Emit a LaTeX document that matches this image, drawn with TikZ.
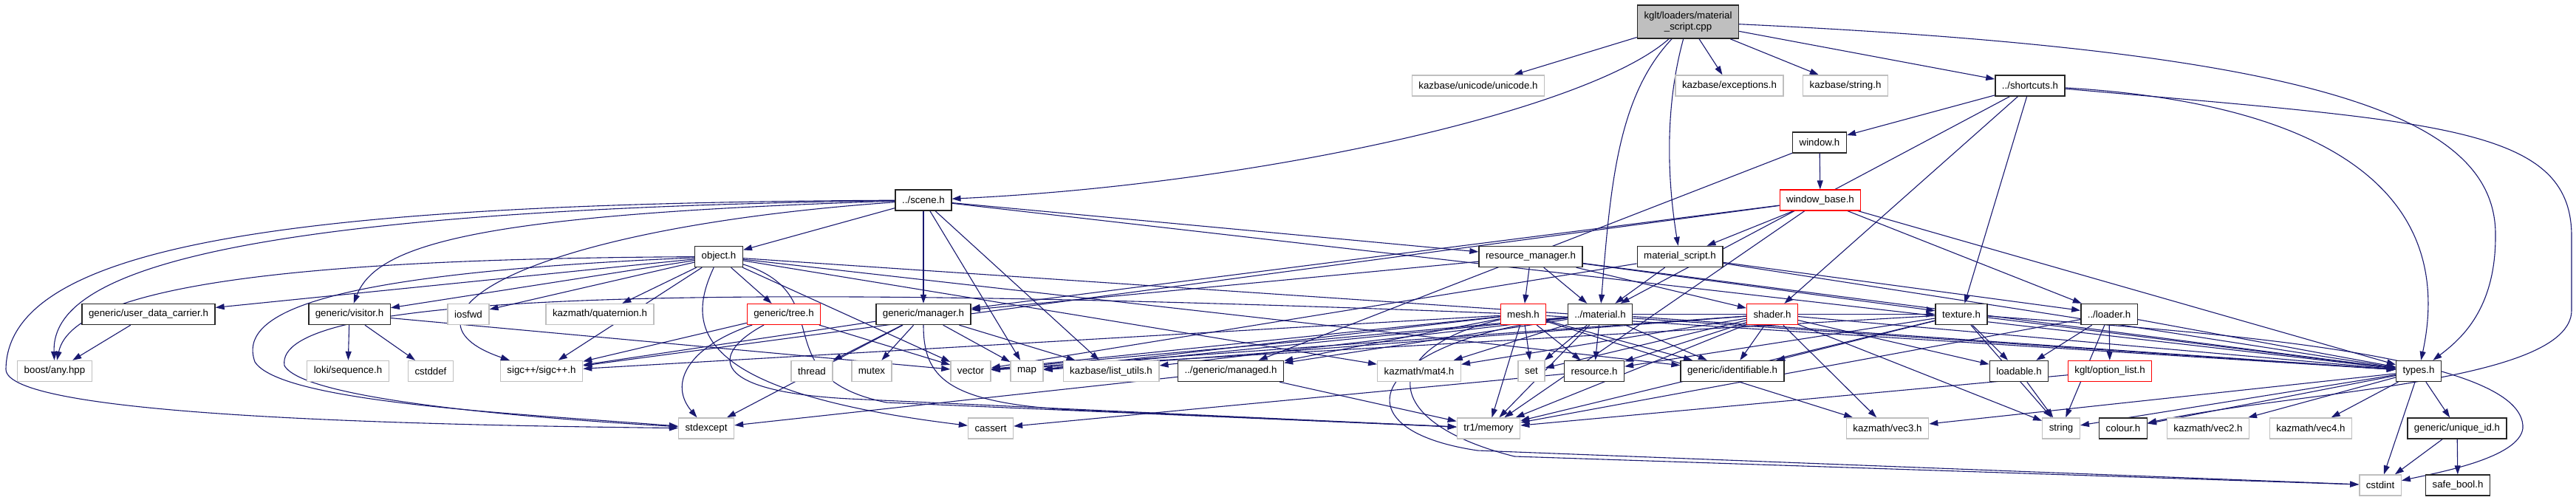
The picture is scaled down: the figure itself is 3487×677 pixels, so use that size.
\documentclass[tikz,border=0pt]{standalone}
\usepackage{fontspec}
\setmainfont{Liberation Sans}
\usepackage{tikz}
\usetikzlibrary{arrows.meta}
\definecolor{edgeblue}{HTML}{191970}
\definecolor{sysgray}{HTML}{BFBFBF}
\pgfdeclarelayer{edges}
\pgfsetlayers{edges,main}

\begin{document}
\begin{tikzpicture}[x=1pt,y=-1pt,
  file/.style={draw,line width=1.4pt,fill=white,font=\fontsize{13.3}{15}\selectfont,inner xsep=9pt,inner ysep=0pt,minimum height=28pt},
  hdr/.style={file,draw=black!85},
  sys/.style={file,draw=sysgray},
  cut/.style={file,draw=red,line width=1.1pt},
  dep/.style={draw=edgeblue,line width=1.1pt,-{Triangle[length=12pt,width=8pt]}}]
  \useasboundingbox (0,0) rectangle (3487,677);
  % top rows
  \node[hdr,fill=sysgray,align=center,minimum height=45pt] (root) at (2285,29.5) {kglt/loaders/material\\\_script.cpp};
  \node[sys] (unicode) at (2001,116) {kazbase/unicode/unicode.h};
  \node[sys] (exceptions) at (2341,116) {kazbase/exceptions.h};
  \node[sys] (kstring) at (2498,116) {kazbase/string.h};
  \node[hdr] (shortcuts) at (2748,116) {../shortcuts.h};
  \node[hdr] (window) at (2463,193) {window.h};
  \node[cut] (winbase) at (2464,271) {window\_base.h};
  \node[hdr] (scene) at (1250,271) {../scene.h};
  \node[hdr] (object) at (973,347.5) {object.h};
  \node[hdr] (resmgr) at (2072,347.5) {resource\_manager.h};
  \node[hdr] (matscript) at (2274,347.5) {material\_script.h};
  % middle row
  \node[hdr] (udc) at (201,425.5) {generic/user\_data\_carrier.h};
  \node[hdr] (visitor) at (473,425.5) {generic/visitor.h};
  \node[sys] (iosfwd) at (634,425.5) {iosfwd};
  \node[sys] (quat) at (812,425.5) {kazmath/quaternion.h};
  \node[cut] (tree) at (1061,425.5) {generic/tree.h};
  \node[hdr] (manager) at (1250,425.5) {generic/manager.h};
  \node[cut] (mesh) at (2062,425.5) {mesh.h};
  \node[hdr] (material) at (2166,425.5) {../material.h};
  \node[cut] (shader) at (2399,425.5) {shader.h};
  \node[hdr] (texture) at (2655,425.5) {texture.h};
  \node[hdr] (loader) at (2855,425.5) {../loader.h};
  % lower rows
  \node[sys] (boostany) at (74,502.5) {boost/any.hpp};
  \node[sys] (loki) at (471,502.5) {loki/sequence.h};
  \node[sys] (cstddef) at (583,502.5) {cstddef};
  \node[sys] (sigc) at (733,502.5) {sigc++/sigc++.h};
  \node[sys] (thread) at (1099,502.5) {thread};
  \node[sys] (mutex) at (1180,502.5) {mutex};
  \node[sys] (vector) at (1314,502.5) {vector};
  \node[sys] (map) at (1390,502.5) {map};
  \node[sys] (listutils) at (1504,502.5) {kazbase/list\_utils.h};
  \node[hdr] (managed) at (1666,502.5) {../generic/managed.h};
  \node[sys] (mat4) at (1921,502.5) {kazmath/mat4.h};
  \node[sys] (set) at (2073,502.5) {set};
  \node[hdr] (resource) at (2158,502.5) {resource.h};
  \node[hdr] (ident) at (2345,502.5) {generic/identifiable.h};
  \node[hdr] (loadable) at (2733,502.5) {loadable.h};
  \node[cut] (optlist) at (2856,502.5) {kglt/option\_list.h};
  \node[hdr] (types) at (3274,502.5) {types.h};
  \node[sys] (stdexcept) at (956,580) {stdexcept};
  \node[sys] (cassert) at (1341,580) {cassert};
  \node[sys] (tr1mem) at (2015,580) {tr1/memory};
  \node[sys] (vec3) at (2555,580) {kazmath/vec3.h};
  \node[sys] (string) at (2790,580) {string};
  \node[hdr] (colour) at (2874,580) {colour.h};
  \node[sys] (vec2) at (2989,580) {kazmath/vec2.h};
  \node[sys] (vec4) at (3128,580) {kazmath/vec4.h};
  \node[hdr] (uniqueid) at (3326,580) {generic/unique\_id.h};
  \node[sys] (cstdint) at (3222,657) {cstdint};
  \node[hdr] (safebool) at (3327,657) {safe\_bool.h};

  \begin{pgfonlayer}{edges}
  \foreach \s/\tl in {root/{unicode,exceptions,kstring,shortcuts},
      shortcuts/{window,shader,texture,material},
      window/{winbase,managed},
      winbase/{manager,sigc,matscript,loader,types,tr1mem},
      scene/{object,manager,map,listutils,resmgr,types},
      object/{udc,visitor,iosfwd,quat,sigc,tree,vector,mat4,types,ident},
      udc/{boostany}, visitor/{loki,cstddef,vector}, tree/{sigc,vector},
      manager/{sigc,stdexcept,thread,mutex,map,listutils},
      resmgr/{mesh,material,shader,texture,manager,types},
      matscript/{material,types,loader,vector},
      mesh/{vector,map,set,resource,ident,managed,types,tr1mem,vec3,sigc},
      material/{vector,map,listutils,resource,ident,tr1mem,mat4,types,managed,texture,set},
      shader/{set,resource,ident,mat4,tr1mem,vec3,types,loadable,string,vector,map},
      texture/{loadable,resource,ident,types,vector,tr1mem,string},
      loader/{loadable,optlist,types,tr1mem,string},
      loadable/{string}, optlist/{tr1mem}, managed/{stdexcept,tr1mem}, resource/{cassert},
      types/{vec3,string,colour,vec2,vec4,cstdint,uniqueid},
      uniqueid/{cstdint,safebool}}
    \foreach \t in \tl
      \draw[dep] (\s) -- (\t);
  % long routed edges
  \draw[dep] (root) .. controls (2190,130) and (2180,250) .. (material);
  \draw[dep] (root) .. controls (2252,150) and (2258,250) .. (matscript);
  \draw[dep] (root) .. controls (2150,150) and (1700,250) .. (scene);
  \draw[dep] (root) .. controls (3150,70) and (3380,160) .. (3378,320) .. controls (3378,420) and (3330,460) .. (types);
  \draw[dep] (shortcuts) .. controls (3150,140) and (3326,260) .. (types);
  \draw[dep] (shortcuts) .. controls (3300,165) and (3481,170) .. (3481,320) -- (3481,420) .. controls (3481,520) and (3100,530) .. (colour);
  \draw[dep] (texture) .. controls (3000,450) and (3420,480) .. (3415,580) .. controls (3410,620) and (3300,640) .. (cstdint);
  \draw[dep] (scene) .. controls (400,275) and (10,330) .. (8,500) .. controls (8,560) and (500,575) .. (stdexcept);
  \draw[dep] (scene) .. controls (250,285) and (70,380) .. (boostany);
  \draw[dep] (object) .. controls (450,350) and (100,380) .. (boostany);
  \draw[dep] (scene) .. controls (650,290) and (510,330) .. (visitor);
  \draw[dep] (scene) .. controls (700,310) and (520,430) .. (sigc);
  \draw[dep] (object) .. controls (450,370) and (320,420) .. (345,490) .. controls (380,545) and (700,560) .. (stdexcept);
  \draw[dep] (mesh) .. controls (900,380) and (370,400) .. (385,495) .. controls (410,540) and (700,565) .. (stdexcept);
  \draw[dep] (tree) .. controls (930,470) and (905,520) .. (stdexcept);
  \draw[dep] (object) .. controls (930,440) and (930,530) .. (cassert);
  \draw[dep] (object) .. controls (1140,400) and (1030,510) .. (1200,545) -- (tr1mem);
  \draw[dep] (tree) .. controls (960,480) and (960,530) .. (1150,540) -- (tr1mem);
  \draw[dep] (manager) .. controls (1250,510) and (1280,545) .. (1450,555) -- (tr1mem);
  \draw[dep] (material) .. controls (1860,460) and (1800,580) .. (2000,610) -- (cstdint);
  \draw[dep] (mesh) .. controls (1870,470) and (1860,570) .. (2050,618) -- (cstdint);
  \end{pgfonlayer}
\end{tikzpicture}
\end{document}
